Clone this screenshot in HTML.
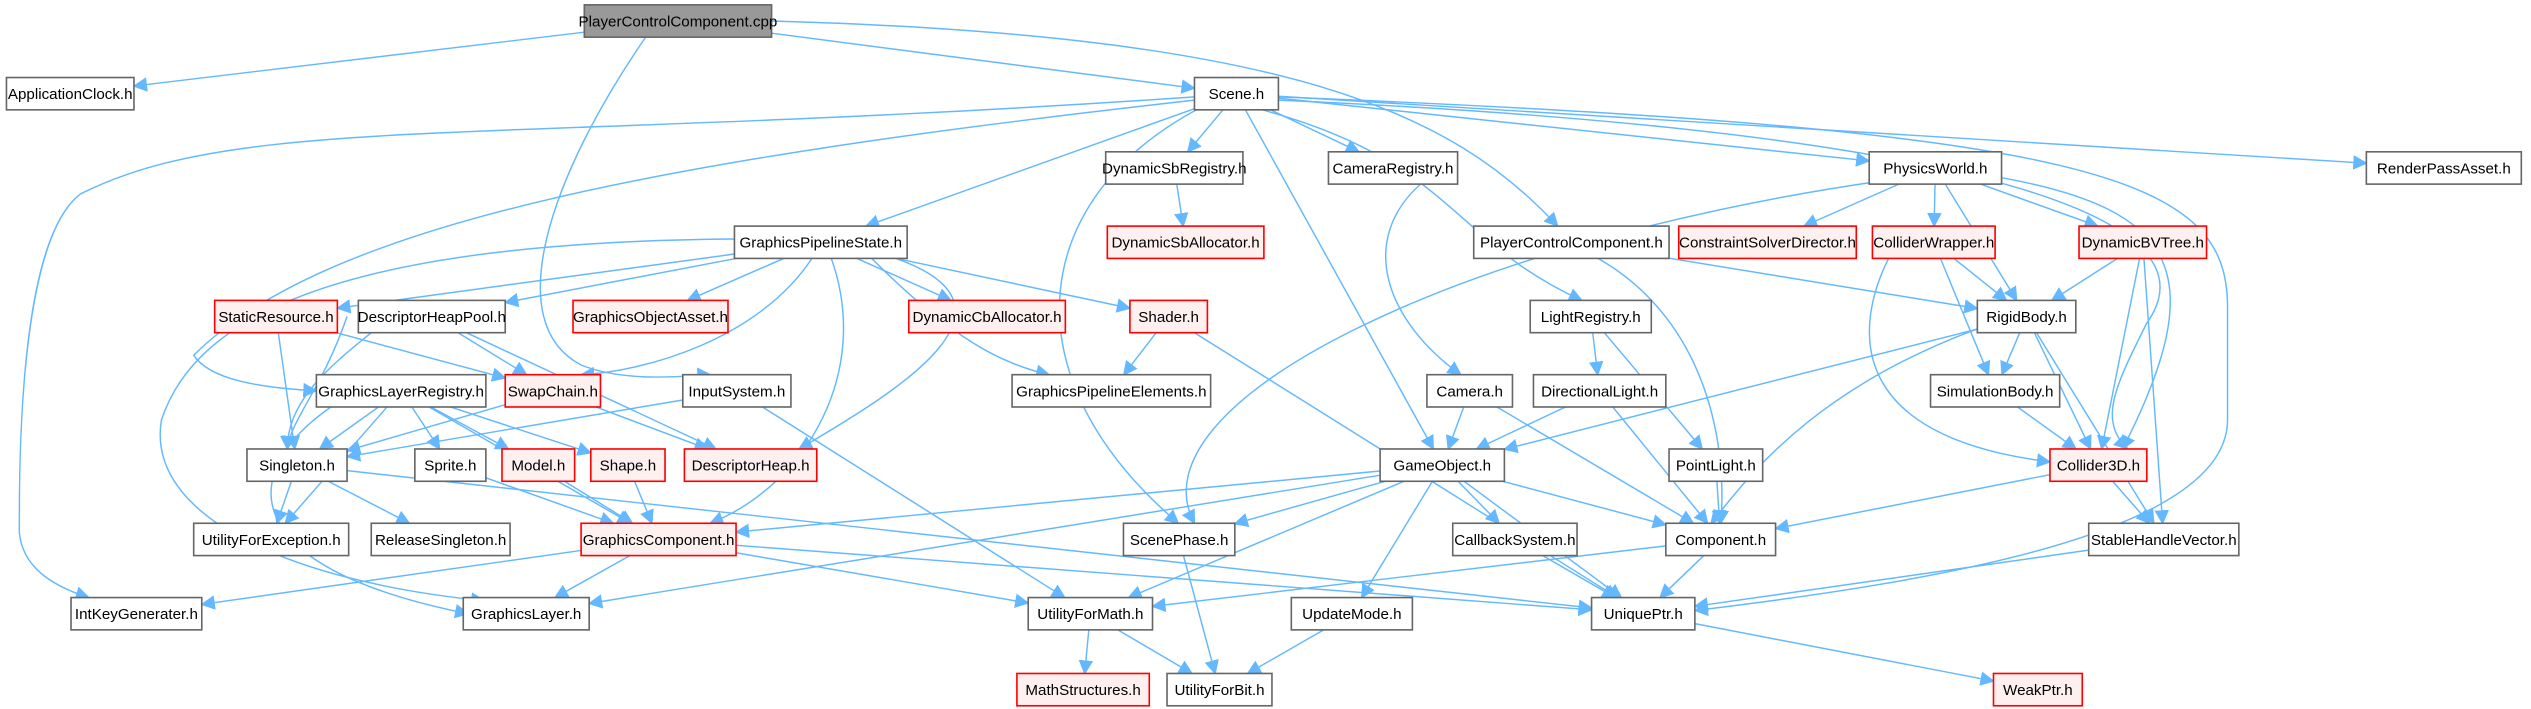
<!DOCTYPE html>
<html><head><meta charset="utf-8"><style>
html,body{margin:0;padding:0;background:#fff;width:2531px;height:709px;overflow:hidden}
svg{display:block}
text{font-family:"Liberation Sans",sans-serif;font-size:9.4px;fill:#000}
</style></head><body>
<svg id="g" width="2531" height="709" viewBox="0 0 1568 439" preserveAspectRatio="none" xmlns="http://www.w3.org/2000/svg">
<defs><marker id="a" viewBox="0 0 10 10" refX="9" refY="5" markerWidth="9" markerHeight="9" markerUnits="userSpaceOnUse" orient="auto"><path d="M0,0 L10,5 L0,10z" fill="#63b8ff"/></marker></defs>
<g id="e" fill="none" stroke="#63b8ff" stroke-width="0.9"></g>
<g id="n"></g>
</svg>
<script>
var N={
cpp:[362,478,13,'PlayerControlComponent.cpp','g'],
AC:[4,83,58,'ApplicationClock.h'],
Sc:[740,792,58,'Scene.h'],
DSR:[685,770,104,'DynamicSbRegistry.h'],
CR:[823,903,104,'CameraRegistry.h'],
PW:[1158,1240,104,'PhysicsWorld.h'],
RPA:[1466,1562,104,'RenderPassAsset.h'],
GPS:[455,562,150,'GraphicsPipelineState.h'],
DSA:[686,783,150,'DynamicSbAllocator.h','r'],
PCH:[913,1034,150,'PlayerControlComponent.h'],
CSD:[1040,1150,150,'ConstraintSolverDirector.h','r'],
CW:[1160,1236,150,'ColliderWrapper.h','r'],
DBV:[1288,1367,150,'DynamicBVTree.h','r'],
SR:[133,209,196,'StaticResource.h','r'],
DHP:[222,313,196,'DescriptorHeapPool.h'],
GOA:[355,451,196,'GraphicsObjectAsset.h','r'],
DCA:[563,660,196,'DynamicCbAllocator.h','r'],
Sh:[700,748,196,'Shader.h','r'],
LR:[948,1023,196,'LightRegistry.h'],
RB:[1225,1286,196,'RigidBody.h'],
GLR:[196,301,242,'GraphicsLayerRegistry.h'],
SC:[313,372,242,'SwapChain.h','r'],
IS:[423,490,242,'InputSystem.h'],
GPE:[627,750,242,'GraphicsPipelineElements.h'],
Cam:[884,937,242,'Camera.h'],
DL:[950,1032,242,'DirectionalLight.h'],
SB:[1196,1276,242,'SimulationBody.h'],
Si:[153,215,288,'Singleton.h'],
Sp:[257,301,288,'Sprite.h'],
Mo:[311,356,288,'Model.h','r'],
Sa:[366,412,288,'Shape.h','r'],
DH:[424,506,288,'DescriptorHeap.h','r'],
GO:[855,932,288,'GameObject.h'],
PL:[1034,1092,288,'PointLight.h'],
C3:[1270,1330,288,'Collider3D.h','r'],
UE:[120,216,334,'UtilityForException.h'],
RS:[230,316,334,'ReleaseSingleton.h'],
GC:[360,456,334,'GraphicsComponent.h','r'],
SP:[696,765,334,'ScenePhase.h'],
CS:[900,977,334,'CallbackSystem.h'],
Co:[1032,1100,334,'Component.h'],
SHV:[1294,1387,334,'StableHandleVector.h'],
IK:[44,125,380,'IntKeyGenerater.h'],
GL:[287,365,380,'GraphicsLayer.h'],
UM:[637,714,380,'UtilityForMath.h'],
UMo:[800,875,380,'UpdateMode.h'],
UP:[986,1050,380,'UniquePtr.h'],
MS:[630,712,427,'MathStructures.h','r'],
UB:[723,788,427,'UtilityForBit.h'],
WP:[1235,1290,427,'WeakPtr.h','r']};
var H=10;
var ns='http://www.w3.org/2000/svg';
var E=document.getElementById('e'),G=document.getElementById('n');
function clip(n,tx,ty){var cx=(n[0]+n[1])/2,cy=n[2],dx=tx-cx,dy=ty-cy,hw=(n[1]-n[0])/2;
 var t=Math.min(dx?hw/Math.abs(dx):1e9,dy?H/Math.abs(dy):1e9);return [cx+dx*t,cy+dy*t];}
function line(a,b){var A=N[a],B=N[b];var ac=[(A[0]+A[1])/2,A[2]],bc=[(B[0]+B[1])/2,B[2]];
 var p=clip(A,bc[0],bc[1]),q=clip(B,ac[0],ac[1]);path('M'+p[0]+','+p[1]+' L'+q[0]+','+q[1]);}
function path(d){var p=document.createElementNS(ns,'path');p.setAttribute('d',d);p.setAttribute('marker-end','url(#a)');E.appendChild(p);}
var L=[['cpp','AC'],['cpp','Sc'],['Sc','DSR'],['Sc','CR'],['Sc','PW'],['Sc','RPA'],['Sc','GPS'],['Sc','GO'],
['GPS','SR'],['GPS','DHP'],['GPS','GOA'],['GPS','DCA'],['GPS','Sh'],['DSR','DSA'],
['PW','CSD'],['PW','CW'],['PW','RB'],['PW','DBV'],['PCH','RB'],['CW','RB'],['CW','SB'],['DBV','RB'],['DBV','C3'],['DBV','SHV'],
['SR','Si'],['SR','SC'],['DHP','SC'],['DHP','DH'],['Sh','GPE'],['LR','DL'],['LR','PL'],
['RB','SB'],['RB','C3'],['RB','SHV'],['RB','GO'],['GLR','Si'],['GLR','UE'],['GLR','Sp'],['GLR','Mo'],['GLR','Sa'],['GLR','GC'],
['SC','Si'],['SC','DH'],['IS','Si'],['IS','UM'],['Cam','GO'],['Cam','Co'],['DL','GO'],['DL','Co'],['SB','C3'],
['Si','UE'],['Si','RS'],['Sp','GC'],['Mo','GC'],['Sa','GC'],['GO','GC'],['GO','SP'],['GO','CS'],['GO','Co'],['GO','UMo'],['GO','UM'],['GO','UP'],['GO','GL'],
['PL','Co'],['C3','Co'],['C3','SHV'],['GC','IK'],['GC','GL'],['GC','UM'],['GC','UP'],['SP','UB'],['CS','UP'],['Co','UM'],['Co','UP'],['SHV','UP'],
['UM','MS'],['UM','UB'],['UMo','UB'],['UP','WP'],['Sh','UP'],['Si','UP']];
L.forEach(function(x){line(x[0],x[1]);});
[
'M400,23 C340,110 310,200 360,226 C390,238 430,232 440,232',
'M478,13 C800,22 900,70 965,140',
'M745,66 C640,120 620,230 730,324',
'M782,68 C900,100 900,150 980,186',
'M792,60 C1300,80 1380,110 1380,190 L1380,260 C1380,330 1200,360 1050,378',
'M792,62 C1200,80 1380,130 1330,200 C1310,240 1300,260 1318,278',
'M740,60 C300,90 150,70 50,120 C10,150 12,300 12,330 C14,350 30,362 55,370',
'M740,62 C400,100 200,140 120,220 C130,235 160,240 196,242',
'M503,160 C470,210 400,230 360,232',
'M540,160 C590,210 620,225 650,232',
'M555,160 C640,190 560,240 495,278',
'M515,160 C540,230 500,300 440,324',
'M455,148 C200,150 120,200 100,260 C90,320 180,360 300,372',
'M880,114 C840,150 860,200 905,232',
'M1166,112 C900,150 700,250 740,324',
'M1240,110 C1350,130 1370,170 1315,278',
'M1170,160 C1150,200 1140,270 1270,286',
'M1235,200 C1120,240 1080,300 1060,324',
'M990,160 C1060,200 1070,280 1066,324',
'M215,196 C200,240 180,260 178,278',
'M230,206 C200,230 178,250 178,278',
'M205,252 C150,290 140,350 290,380'
].forEach(path);
for(var k in N){var n=N[k];var r=document.createElementNS(ns,'rect');
 r.setAttribute('x',n[0]);r.setAttribute('y',n[2]-H);r.setAttribute('width',n[1]-n[0]);r.setAttribute('height',2*H);
 r.setAttribute('fill',n[4]=='g'?'#999':n[4]=='r'?'#fff0f0':'#fff');r.setAttribute('stroke',n[4]=='r'?'#f00':'#666');r.setAttribute('stroke-width','1');
 G.appendChild(r);var t=document.createElementNS(ns,'text');t.setAttribute('x',(n[0]+n[1])/2);t.setAttribute('y',n[2]+3.4);
 t.setAttribute('text-anchor','middle');t.textContent=n[3];G.appendChild(t);}
</script>
</body></html>
